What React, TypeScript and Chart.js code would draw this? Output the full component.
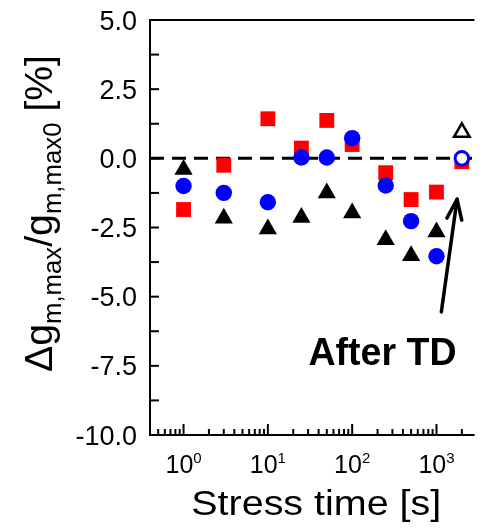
import React, { useEffect, useRef } from "react";
import { Chart, registerables } from "chart.js";

Chart.register(...registerables);

// ---- data ----
const stressTimes = [1, 3, 10, 25, 50, 100, 250, 500, 1000, 2000];
const redSquares = [-1.85, -0.25, 1.43, 0.37, 1.37, 0.5, -0.52, -1.49, -1.22, -0.12];
const blueCircles = [-1.0, -1.25, -1.59, 0.03, 0.03, 0.73, -0.98, -2.27, -3.54, 0.0];
const blackTriangles = [-0.4, -2.17, -2.55, -2.14, -1.25, -1.98, -2.94, -3.52, -2.66, 0.94];
const afterTD = [false, false, false, false, false, false, false, false, false, true];

const xMin = 0.4;
const xMax = 2825;
const yMin = -10;
const yMax = 5;
const yTicks = [-10, -8.75, -7.5, -6.25, -5, -3.75, -2.5, -1.25, 0, 1.25, 2.5, 3.75, 5];
const yLabelValues = [-10, -7.5, -5, -2.5, 0, 2.5, 5];
const yTickLabels = ["-10.0", "-7.5", "-5.0", "-2.5", "0.0", "2.5", "5.0"];
const xDecades = [1, 10, 100, 1000];
const xDecadeExponents = ["0", "1", "2", "3"];
const referenceLevel = 0;

const arrowTail = { x: 1142, y: -5.55 };
const arrowTip = { x: 1755, y: -1.48 };
const annotationText = "After TD";
const annotationAnchor = { x: 229, y: -7.48 };
const xTitle = "Stress time [s]";

const FONT = '"Liberation Sans", Arial, sans-serif';

type Part = { text: string; font: string; dy: number };

function drawParts(
  ctx: CanvasRenderingContext2D,
  parts: Part[],
  x: number,
  y: number,
  targetWidth: number | null,
  rotate: boolean
) {
  ctx.save();
  let w = 0;
  const widths: number[] = [];
  for (const p of parts) {
    ctx.font = p.font;
    const m = ctx.measureText(p.text).width;
    widths.push(m);
    w += m;
  }
  const sx = targetWidth ? targetWidth / w : 1;
  ctx.translate(x, y);
  if (rotate) ctx.rotate(-Math.PI / 2);
  ctx.scale(sx, 1);
  ctx.textBaseline = "alphabetic";
  ctx.textAlign = "left";
  ctx.fillStyle = "#000";
  let cx = -w / 2;
  parts.forEach((p, i) => {
    ctx.font = p.font;
    ctx.fillText(p.text, cx, p.dy);
    cx += widths[i];
  });
  ctx.restore();
}

const framePlugin = {
  id: "frame",
  afterDraw(chart: any) {
    const ctx: CanvasRenderingContext2D = chart.ctx;
    const { left, right, top, bottom } = chart.chartArea;
    const xs = chart.scales.x;
    const ys = chart.scales.y;
    ctx.save();
    ctx.strokeStyle = "#000";
    ctx.lineWidth = 2;
    ctx.beginPath();
    ctx.moveTo(right, top);
    ctx.lineTo(left, top);
    ctx.lineTo(left, bottom);
    ctx.lineTo(right, bottom);
    ctx.stroke();

    for (const v of yTicks) {
      const py = ys.getPixelForValue(v);
      ctx.beginPath();
      ctx.moveTo(left, py);
      ctx.lineTo(left + 9, py);
      ctx.stroke();
    }
    for (let d = 0.1; d <= 10000; d *= 10) {
      for (let k = 1; k <= 9; k++) {
        const v = d * k;
        if (v < xMin || v > xMax) continue;
        const px = xs.getPixelForValue(v);
        const len = k === 1 ? 11 : 6;
        ctx.beginPath();
        ctx.moveTo(px, bottom);
        ctx.lineTo(px, bottom - len);
        ctx.stroke();
      }
    }

    ctx.fillStyle = "#000";
    ctx.textAlign = "right";
    ctx.textBaseline = "alphabetic";
    const yFont = 27;
    ctx.font = `${yFont}px ${FONT}`;
    yLabelValues.forEach((v, i) => {
      const py = ys.getPixelForValue(v);
      ctx.fillText(yTickLabels[i], left - 13, py + 0.358 * yFont);
    });

    xDecades.forEach((v, i) => {
      const px = xs.getPixelForValue(v);
      drawParts(
        ctx,
        [
          { text: "10", font: `25px ${FONT}`, dy: 0 },
          { text: xDecadeExponents[i], font: `15px ${FONT}`, dy: -10 },
        ],
        px,
        bottom + 38,
        null,
        false
      );
    });

    drawParts(
      ctx,
      [{ text: xTitle, font: `35px ${FONT}`, dy: 0 }],
      (left + right) / 2 + 4,
      bottom + 80,
      250,
      false
    );

    const main = `38px ${FONT}`;
    const sub = `25px ${FONT}`;
    drawParts(
      ctx,
      [
        { text: "\u0394g", font: main, dy: 0 },
        { text: "m,max", font: sub, dy: 9 },
        { text: "/g", font: main, dy: 0 },
        { text: "m,max0", font: sub, dy: 9 },
        { text: " [%]", font: main, dy: 0 },
      ],
      52,
      (top + bottom) / 2 - 14,
      317,
      true
    );

    // arrow with open V head
    const tx = xs.getPixelForValue(arrowTail.x);
    const ty = ys.getPixelForValue(arrowTail.y);
    const hx = xs.getPixelForValue(arrowTip.x);
    const hy = ys.getPixelForValue(arrowTip.y);
    const ang = Math.atan2(hy - ty, hx - tx);
    const headLen = 20;
    const headHalf = 7.5;
    const bx = hx - headLen * Math.cos(ang);
    const by = hy - headLen * Math.sin(ang);
    ctx.strokeStyle = "#000";
    ctx.lineWidth = 3.5;
    ctx.lineCap = "round";
    ctx.lineJoin = "round";
    ctx.beginPath();
    ctx.moveTo(tx, ty);
    ctx.lineTo(hx, hy);
    ctx.stroke();
    ctx.beginPath();
    ctx.moveTo(bx - headHalf * Math.sin(ang), by + headHalf * Math.cos(ang));
    ctx.lineTo(hx, hy);
    ctx.lineTo(bx + headHalf * Math.sin(ang), by - headHalf * Math.cos(ang));
    ctx.stroke();

    drawParts(
      ctx,
      [{ text: annotationText, font: `bold 39px ${FONT}`, dy: 0 }],
      xs.getPixelForValue(annotationAnchor.x),
      ys.getPixelForValue(annotationAnchor.y),
      148,
      false
    );
    ctx.restore();
  },
};

export default function App() {
  const ref = useRef<HTMLCanvasElement | null>(null);
  useEffect(() => {
    if (!ref.current) return;
    const pts = (vals: number[]) => stressTimes.map((t, i) => ({ x: t, y: vals[i] }));
    const chart = new Chart(ref.current, {
      type: "scatter",
      data: {
        datasets: [
          {
            label: "triangles",
            data: pts(blackTriangles),
            pointStyle: "triangle",
            pointRadius: afterTD.map((a) => (a ? 9 : 10.5)),
            pointBackgroundColor: afterTD.map((a) => (a ? "#fff" : "#000")),
            pointBorderColor: "#000",
            pointBorderWidth: afterTD.map((a) => (a ? 2.5 : 0)),
            showLine: false,
            clip: false,
            order: 0,
          },
          {
            label: "circles",
            data: pts(blueCircles),
            pointStyle: "circle",
            pointRadius: afterTD.map((a) => (a ? 6.8 : 8.2)),
            pointBackgroundColor: afterTD.map((a) => (a ? "#fff" : "#0000ff")),
            pointBorderColor: "#0000ff",
            pointBorderWidth: afterTD.map((a) => (a ? 3 : 0)),
            showLine: false,
            clip: false,
            order: 1,
          },
          {
            label: "squares",
            data: pts(redSquares),
            pointStyle: "rect",
            pointRadius: 10.5,
            pointBackgroundColor: "#ff0000",
            pointBorderColor: "#ff0000",
            pointBorderWidth: 0,
            showLine: false,
            clip: false,
            order: 2,
          },
          {
            label: "zero",
            type: "line",
            data: [
              { x: xMin, y: referenceLevel },
              { x: xMax, y: referenceLevel },
            ],
            borderColor: "#000",
            borderWidth: 3,
            borderDash: [14, 8],
            pointRadius: 0,
            fill: false,
            order: 3,
          } as any,
        ],
      },
      options: {
        animation: false,
        responsive: false,
        maintainAspectRatio: false,
        events: [],
        layout: { padding: { left: 150, top: 20, right: 0, bottom: 94 } },
        plugins: { legend: { display: false }, tooltip: { enabled: false } },
        scales: {
          x: { type: "logarithmic", min: xMin, max: xMax, display: false },
          y: { type: "linear", min: yMin, max: yMax, display: false },
        },
      },
      plugins: [framePlugin],
    });
    return () => chart.destroy();
  }, []);
  return (
    <div style={{ position: "absolute", left: 0, top: 0, width: 486, height: 529, background: "#fff" }}>
      <canvas ref={ref} width={486} height={529} style={{ display: "block" }} />
    </div>
  );
}
